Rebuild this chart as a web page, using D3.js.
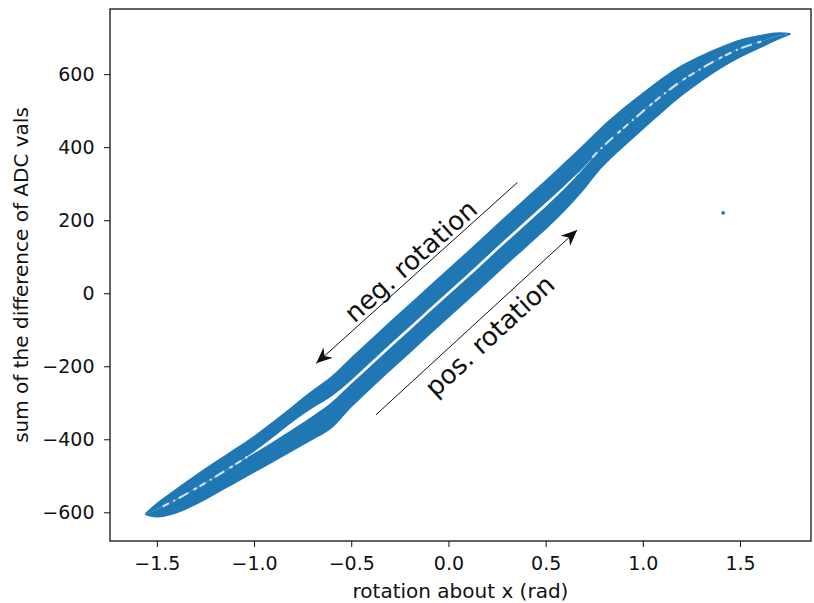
<!DOCTYPE html>
<html>
<head>
<meta charset="utf-8">
<script src="https://cdn.jsdelivr.net/npm/d3@7"></script>
<style>
  body { margin: 0; background: #fff; }
  svg { display: block; }
  text { font-family: "DejaVu Sans", sans-serif; fill: #111; }
</style>
</head>
<body>
<div id="chart"></div>
<script>
const width = 814, height = 603;
const margin = {top: 9, right: 3, bottom: 62, left: 110};

// rotation about x (rad), shared by both branches of the loop
const rotation = [-1.56, -1.5, -1.4, -1.3, -1.2, -1.1, -1.0, -0.9, -0.8, -0.7, -0.6, -0.5, -0.4, -0.3, -0.2, -0.1,
  0, 0.1, 0.2, 0.3, 0.4, 0.5, 0.6, 0.7, 0.78, 0.9, 1.0, 1.1, 1.2, 1.3, 1.4, 1.5, 1.6, 1.7, 1.76];

// neg. rotation branch (upper band): outer and inner edge
const negOuter = [-602, -574, -535, -497, -461, -426, -390, -350, -308, -266, -226, -175, -126, -77, -29, 20,
  68, 116, 165, 214, 262, 310, 360, 410, 452, 508, 550, 590, 625, 652, 675, 695, 707, 715, 713];
const negInner = [-605, -592, -565, -535, -503, -470, -434, -394, -352, -315, -282, -238, -189, -140, -92, -43,
  5, 53, 102, 151, 199, 247, 296, 347, 394, 452, 498, 542, 582, 615, 645, 670, 688, 705, 711];

// pos. rotation branch (lower band): inner and outer edge
const posInner = [-605, -592, -565, -535, -503, -470, -438, -406, -372, -337, -298, -248, -199, -150, -102, -53,
  -5, 43, 92, 141, 189, 237, 288, 345, 394, 452, 498, 542, 582, 615, 645, 670, 688, 705, 711];
const posOuter = [-608, -614, -603, -580, -551, -522, -492, -462, -432, -402, -370, -313, -262, -213, -165, -116,
  -68, -20, 29, 78, 126, 174, 226, 285, 338, 400, 448, 495, 540, 579, 615, 645, 670, 695, 708];

// light streaks where the two bands overlap
const streakLeftX = [-1.47, -1.4, -1.3, -1.2, -1.1, -1.02];
const streakLeftY = [-584, -565, -535, -503, -470, -443];
const streakRightX = [0.74, 0.78, 0.9, 1.0, 1.1, 1.2, 1.3, 1.4, 1.5, 1.62];
const streakRightY = [372, 394, 452, 498, 542, 582, 615, 645, 670, 691];

// single stray sample
const strayX = [1.413];
const strayY = [220];

const xTicks = [-1.5, -1.0, -0.5, 0.0, 0.5, 1.0, 1.5];
const yTicks = [-600, -400, -200, 0, 200, 400, 600];

const arrowLabels = ["neg. rotation", "pos. rotation"];
const arrowFrom = [[0.354, 303], [-0.373, -333]];
const arrowTo = [[-0.68, -192], [0.662, 173]];
const labelAt = [[-0.19, 86], [0.217, -119]];

const blue = "#1f77b4";

const svg = d3.select("#chart")
  .append("svg")
  .attr("width", width)
  .attr("height", height);

const x = d3.scaleLinear()
  .domain([-1.741, 1.865])
  .range([margin.left, width - margin.right]);

const y = d3.scaleLinear()
  .domain([-678.6, 778.5])
  .range([height - margin.bottom, margin.top]);

const rows = rotation.map((r, i) => ({r, no: negOuter[i], ni: negInner[i], pi: posInner[i], po: posOuter[i]}));

const area = (lo, hi) => d3.area()
  .x(d => x(d.r))
  .y0(d => y(d[lo]))
  .y1(d => y(d[hi]))
  .curve(d3.curveMonotoneX);

svg.append("path")
  .datum(rows)
  .attr("fill", blue)
  .attr("d", area("po", "pi"));

svg.append("path")
  .datum(rows)
  .attr("fill", blue)
  .attr("d", area("ni", "no"));

const streakLine = d3.line()
  .x(d => x(d[0]))
  .y(d => y(d[1]))
  .curve(d3.curveMonotoneX);

[[streakLeftX, streakLeftY], [streakRightX, streakRightY]].forEach(([sx, sy]) => {
  svg.append("path")
    .datum(sx.map((v, i) => [v, sy[i]]))
    .attr("fill", "none")
    .attr("stroke", "#fff")
    .attr("stroke-opacity", 0.75)
    .attr("stroke-width", 2.2)
    .attr("stroke-dasharray", "7 5 2 4 11 6 4 3")
    .attr("d", streakLine);
});

svg.selectAll(".stray")
  .data(strayX)
  .join("circle")
  .attr("cx", d => x(d))
  .attr("cy", (d, i) => y(strayY[i]))
  .attr("r", 1.8)
  .attr("fill", blue);

// axes
const xAxis = svg.append("g")
  .attr("transform", `translate(0,${height - margin.bottom})`)
  .call(d3.axisBottom(x).tickValues(xTicks).tickFormat(d3.format(".1f")).tickSize(6).tickPadding(10).tickSizeOuter(0));

const yAxis = svg.append("g")
  .attr("transform", `translate(${margin.left},0)`)
  .call(d3.axisLeft(y).tickValues(yTicks).tickFormat(d3.format("d")).tickSize(6).tickPadding(9.5).tickSizeOuter(0));

[xAxis, yAxis].forEach(g => {
  g.select(".domain").remove();
  g.selectAll("line").attr("stroke", "#111").attr("stroke-width", 1);
  g.selectAll("text").attr("font-size", 19).attr("fill", "#111").style("font-family", "DejaVu Sans");
});

svg.append("rect")
  .attr("x", margin.left)
  .attr("y", margin.top)
  .attr("width", width - margin.right - margin.left)
  .attr("height", height - margin.bottom - margin.top)
  .attr("fill", "none")
  .attr("stroke", "#111")
  .attr("stroke-width", 1.3);

svg.append("text")
  .attr("x", (margin.left + width - margin.right) / 2)
  .attr("y", 598)
  .attr("text-anchor", "middle")
  .attr("font-size", 20)
  .text("rotation about x (rad)");

svg.append("text")
  .attr("transform", `translate(28,${(margin.top + height - margin.bottom) / 2}) rotate(-90)`)
  .attr("text-anchor", "middle")
  .attr("font-size", 20)
  .text("sum of the difference of ADC vals");

// annotations
svg.append("defs").append("marker")
  .attr("id", "head")
  .attr("markerUnits", "userSpaceOnUse")
  .attr("viewBox", "-16 -8 18 16")
  .attr("markerWidth", 18)
  .attr("markerHeight", 16)
  .attr("refX", 0)
  .attr("refY", 0)
  .attr("orient", "auto")
  .append("path")
  .attr("d", "M0,0 L-16,-7 L-11,0 L-16,7 Z")
  .attr("fill", "#111");

arrowLabels.forEach((label, i) => {
  const [x0, y0] = arrowFrom[i], [x1, y1] = arrowTo[i];
  svg.append("line")
    .attr("x1", x(x0)).attr("y1", y(y0))
    .attr("x2", x(x1)).attr("y2", y(y1))
    .attr("stroke", "#111")
    .attr("stroke-width", 1)
    .attr("marker-end", "url(#head)");

  const ang = Math.atan2(Math.abs(y(y1) - y(y0)), Math.abs(x(x1) - x(x0))) * 180 / Math.PI;
  svg.append("text")
    .attr("transform", `translate(${x(labelAt[i][0])},${y(labelAt[i][1])}) rotate(${-ang})`)
    .attr("text-anchor", "middle")
    .attr("dy", "0.3em")
    .attr("font-size", 26)
    .text(label);
});
</script>
</body>
</html>
